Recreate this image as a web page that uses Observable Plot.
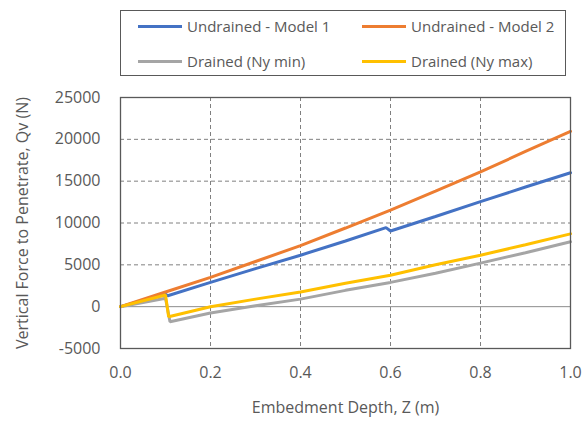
<!DOCTYPE html>
<html>
<head>
<meta charset="utf-8">
<script src="https://cdn.jsdelivr.net/npm/d3@7"></script>
<script src="https://cdn.jsdelivr.net/npm/@observablehq/plot@0.6"></script>
<style>
  body { margin: 0; background: #fff; }
  #wrap { position: relative; width: 584px; height: 422px; font-family: "Open Sans", sans-serif; color: #595959; }
  #legend { position: absolute; left: 120px; top: 10px; width: 446px; height: 66px; border: 1px solid #595959; box-sizing: border-box; }
  .item { position: absolute; display: flex; align-items: center; font-size: 15px; white-space: nowrap; }
  .swatch { width: 44px; height: 3px; margin-right: 5px; }
</style>
</head>
<body>
<div id="wrap">
  <div id="chart"></div>
  <div id="legend"></div>
</div>
<script>
const seriesNames = ["Undrained - Model 1", "Undrained - Model 2", "Drained (Ny min)", "Drained (Ny max)"];
const seriesColors = ["#4472C4", "#ED7D31", "#A5A5A5", "#FFC000"];

// Undrained - Model 1
const depthM1 = [0, 0.1, 0.105, 0.2, 0.3, 0.4, 0.5, 0.59, 0.6, 0.7, 0.8, 0.9, 1.0];
const qvM1    = [0, 1500, 1300, 2900, 4550, 6150, 7850, 9450, 9050, 10780, 12550, 14300, 16000];
// Undrained - Model 2
const depthM2 = [0, 0.1, 0.2, 0.3, 0.4, 0.5, 0.6, 0.7, 0.8, 0.9, 1.0];
const qvM2    = [0, 1750, 3500, 5400, 7300, 9400, 11550, 13800, 16100, 18550, 20950];
// Drained (Ny min)
const depthMin = [0, 0.1, 0.11, 0.2, 0.3, 0.4, 0.5, 0.6, 0.7, 0.8, 0.9, 1.0];
const qvMin    = [0, 1000, -1800, -750, 100, 900, 1950, 2900, 4000, 5200, 6450, 7750];
// Drained (Ny max)
const depthMax = [0, 0.1, 0.107, 0.2, 0.3, 0.4, 0.5, 0.6, 0.7, 0.8, 0.9, 1.0];
const qvMax    = [0, 1400, -1200, 0, 900, 1750, 2800, 3750, 5000, 6150, 7400, 8700];

const xTicks = [0, 0.2, 0.4, 0.6, 0.8, 1.0];
const yTicks = [-5000, 0, 5000, 10000, 15000, 20000, 25000];

const toRows = (xs, ys, s) => xs.map((z, i) => ({z, q: ys[i], s}));
const series = [
  toRows(depthM1, qvM1, seriesNames[0]),
  toRows(depthM2, qvM2, seriesNames[1]),
  toRows(depthMin, qvMin, seriesNames[2]),
  toRows(depthMax, qvMax, seriesNames[3])
];

const chart = Plot.plot({
  width: 584,
  height: 422,
  marginLeft: 120,
  marginRight: 14,
  marginTop: 97,
  marginBottom: 74,
  style: {fontFamily: "'Open Sans', sans-serif", fontSize: "16px", color: "#595959", background: "white"},
  x: {domain: [0, 1]},
  y: {domain: [-5000, 25000]},
  marks: [
    Plot.gridX(xTicks.filter(t => t > 0 && t < 1), {stroke: "#808080", strokeOpacity: 1, strokeDasharray: "4,3"}),
    Plot.gridY(yTicks.filter(t => t !== 0 && t > -5000 && t < 25000), {stroke: "#808080", strokeOpacity: 1, strokeDasharray: "4,3"}),
    Plot.ruleY([0], {stroke: "#8c8c8c", strokeWidth: 1}),
    ...series.map((rows, i) => Plot.line(rows, {x: "z", y: "q", stroke: seriesColors[i], strokeWidth: 3, strokeLinejoin: "miter"})),
    Plot.frame({stroke: "#595959", strokeWidth: 1.3}),
    Plot.axisX(xTicks, {tickSize: 0, tickPadding: 18, tickFormat: d3.format(".1f"), label: "Embedment Depth, Z (m)", labelAnchor: "center", labelArrow: "none", labelOffset: 64, fill: "#595959"}),
    Plot.axisY(yTicks, {tickSize: 0, tickPadding: 20, tickFormat: d => String(d), label: "Vertical Force to Penetrate, Qv (N)", labelAnchor: "center", labelArrow: "none", labelOffset: 104, fill: "#595959"})
  ]
});
document.getElementById("chart").appendChild(chart);

// legend
const legend = document.getElementById("legend");
const pos = [[17, 15], [241, 15], [17, 50], [241, 50]];
seriesNames.forEach((name, i) => {
  const it = document.createElement("div");
  it.className = "item";
  it.style.left = pos[i][0] + "px";
  it.style.top = (pos[i][1] - 10) + "px";
  it.style.height = "20px";
  const sw = document.createElement("span");
  sw.className = "swatch";
  sw.style.background = seriesColors[i];
  const tx = document.createElement("span");
  tx.textContent = name;
  it.appendChild(sw);
  it.appendChild(tx);
  legend.appendChild(it);
});
</script>
</body>
</html>
